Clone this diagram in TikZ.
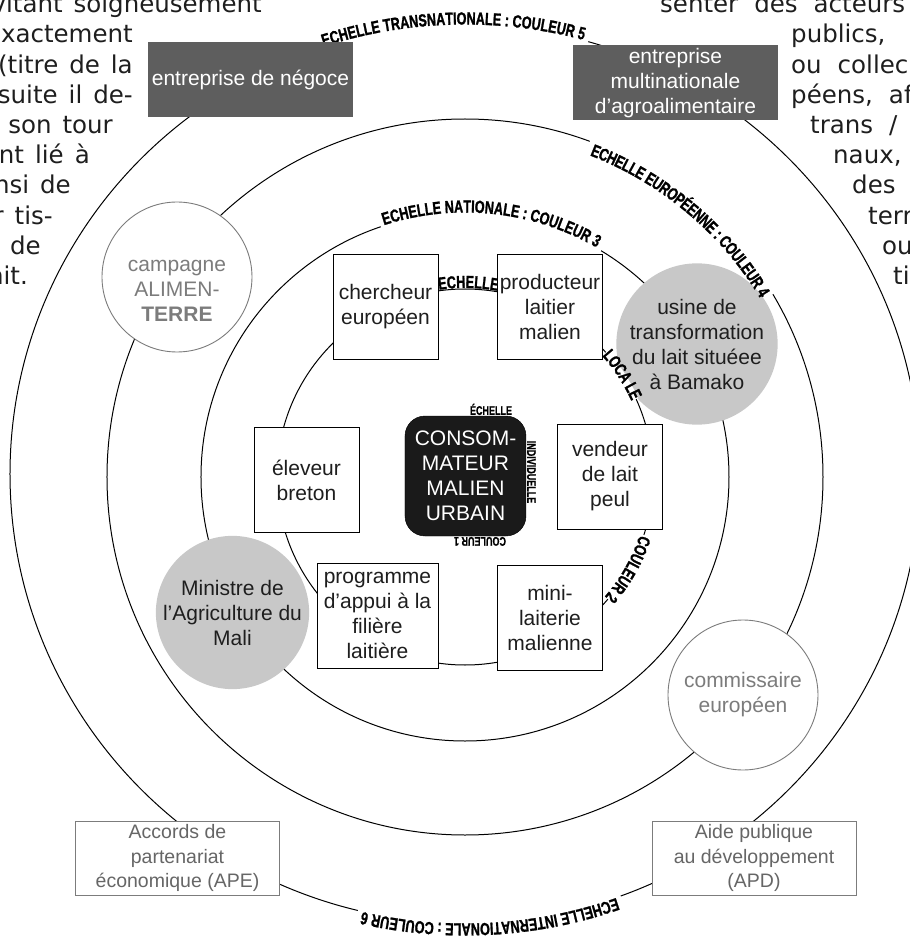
\documentclass[tikz,border=0pt]{standalone}
\usepackage{fontspec}
\setmainfont{Liberation Sans}
\newfontfamily\pagefont{DejaVu Sans}
\newfontfamily\ringface[FakeStretch=0.72, FakeBold=1.2]{Liberation Sans}
\usetikzlibrary{decorations.text}

\definecolor{boxdark}{HTML}{5E5E5E}
\definecolor{consofill}{HTML}{1A1A1A}
\definecolor{diskgray}{HTML}{C8C8C8}
\definecolor{softgray}{HTML}{7C7C7C}
\definecolor{inktext}{HTML}{1E1E1E}

\newcommand{\boxfont}{\fontsize{21}{25}\selectfont}
\newcommand{\smallboxfont}{\fontsize{19.5}{24.5}\selectfont}
\newcommand{\ringfont}{\ringface\bfseries\fontsize{17.5}{17.5}\selectfont}
\newcommand{\tinyringfont}{\ringface\bfseries\fontsize{12.5}{12.5}\selectfont}
\newcommand{\pagetext}{\pagefont\fontsize{24.5}{30}\selectfont}

\tikzset{
  ring/.style={draw=black, line width=1pt},
  ringcover/.style={draw=white, line width=4.5pt},
  ringtext/.style={decorate, decoration={text along path, text align=center, text={|\ringfont|#1}}},
  tinyring/.style={font=\tinyringfont, text=black, inner sep=0.6pt},
  darkbox/.style={rectangle, fill=boxdark, text=white, font=\boxfont, align=center,
    inner sep=0pt, minimum width=205, minimum height=75},
  whitebox/.style={rectangle, draw=black, line width=0.9pt, fill=white, text=inktext,
    font=\boxfont, align=center, inner sep=0pt, minimum width=105, minimum height=105},
  graydisk/.style={circle, fill=diskgray, text=inktext, font=\boxfont, align=center,
    inner sep=0pt, minimum size=151},
  opendisk/.style={circle, draw=softgray, line width=0.9pt, fill=white, text=softgray,
    font=\boxfont, align=center, inner sep=0pt, minimum size=150},
  graybox/.style={rectangle, draw=softgray, line width=0.9pt, fill=white, text=black!60,
    font=\smallboxfont, align=center, inner sep=0pt, minimum width=204, minimum height=74},
  consobox/.style={rectangle, rounded corners=20pt, fill=consofill, draw=black, text=white,
    font=\boxfont, align=center, inner sep=0pt, minimum width=121, minimum height=120},
  leftline/.style={anchor=base east, inner sep=0pt, text=inktext, font={\pagetext\spaceskip=11pt\relax}},
  rightline/.style={anchor=base west, inner sep=0pt, text=inktext, font={\pagetext\spaceskip=16pt\relax}}
}

\begin{document}
\begin{tikzpicture}[x=1pt, y=1pt]
\useasboundingbox (-465,-463) rectangle (445,477);
\clip (-465,-463) rectangle (445,477);

% the four scales
\draw[ring] (0,0) circle[radius=188];
\draw[ring] (0,0) circle[radius=264];
\draw[ring] (0,0) circle[radius=358];
\draw[ring] (0,3) ellipse[x radius=455, y radius=449];

% gray actors sit on the national ring
\node[graydisk] (usine) at (232,133) {usine de\\transformation\\du lait situéee\\à Bamako};
\node[graydisk] (ministre) at (-232.5,-135.5) {Ministre de\\l’Agriculture du\\Mali};

% scale names along the rings
\path[ringtext={ECHELLE}, decoration={raise=1pt}] (104:188) arc[start angle=104, end angle=74, radius=188];
\draw[ringcover] (41.5:188) arc[start angle=41.5, end angle=24.5, radius=188];
\path[ringtext={LOCA LE}, decoration={raise=-5pt}] (47:188) arc[start angle=47, end angle=19, radius=188];
\draw[ringcover] (-18:188) arc[start angle=-18, end angle=-40.5, radius=188];
\path[ringtext={COULEUR 2}, decoration={raise=-4pt}] (-12:188) arc[start angle=-12, end angle=-47, radius=188];

\draw[ringcover] (108.6:264) arc[start angle=108.6, end angle=59, radius=264];
\path[ringtext={ECHELLE NATIONALE : COULEUR 3}, decoration={raise=0.5pt}] (116:264) arc[start angle=116, end angle=52, radius=264];

\draw[ringcover] (69.6:358) arc[start angle=69.6, end angle=30.7, radius=358];
\path[ringtext={ECHELLE EUROPÉENNE : COULEUR 4}, decoration={raise=-13pt}] (76:358) arc[start angle=76, end angle=24, radius=358];

\draw[ringcover] ([shift={(0,3)}]108.4:455 and 449) arc[start angle=108.4, end angle=74.3, x radius=455, y radius=449];
\path[ringtext={ECHELLE TRANSNATIONALE : COULEUR 5}, decoration={raise=0.5pt}] ([shift={(0,3)}]113:455 and 449) arc[start angle=113, end angle=70, x radius=455, y radius=449];
\draw[ringcover] ([shift={(0,3)}]-70:455 and 449) arc[start angle=-70, end angle=-103.6, x radius=455, y radius=449];
\path[ringtext={ECHELLE INTERNATIONALE : COULEUR 6}, decoration={raise=0.5pt}] ([shift={(0,3)}]-64:455 and 449) arc[start angle=-64, end angle=-109.6, x radius=455, y radius=449];

% actors
\node[darkbox] (negoce) at (-214.5,397.5) {entreprise de négoce};
\node[darkbox] (multinat) at (210.5,394) {entreprise\\multinationale\\d’agroalimentaire};
\node[opendisk] (campagne) at (-288,200) {};
\node[text=softgray, font=\boxfont, align=center, inner sep=0pt] (campagnetext) at ([yshift=-14pt]campagne.center) {campagne\\ALIMEN-\\\textbf{TERRE}};
\node[whitebox] (chercheur) at (-79.5,170.5) {chercheur\\européen};
\node[whitebox] (producteur) at (85,170.5) {producteur\\laitier\\malien};
\node[whitebox] (eleveur) at (-158.5,-3) {éleveur\\breton};
\node[consobox] (conso) at (0.5,1) {CONSOM-\\MATEUR\\MALIEN\\URBAIN};
\node[whitebox] (vendeur) at (145,0.5) {vendeur\\de lait\\peul};
\node[whitebox, minimum width=121] (programme) at (-87.5,-138.5) {programme\\d’appui à la\\filière\\laitière};
\node[whitebox] (minilait) at (85,-140.5) {mini-\\laiterie\\malienne};
\node[opendisk] (commissaire) at (278,-218) {commissaire\\européen};
\node[graybox] (accords) at (-287.5,-381) {Accords de\\partenariat\\économique (APE)};
\node[graybox] (aide) at (289,-381) {Aide publique\\au développement\\(APD)};

% individual scale round the consumer
\node[tinyring, anchor=south] (echind) at ([xshift=25.5pt]conso.north) {ÉCHELLE};
\node[tinyring, rotate=-90, anchor=south] (individ) at ([yshift=4pt]conso.east) {INDIVIDUELLE};
\node[tinyring, rotate=180, anchor=south] (coul1) at ([xshift=14.5pt]conso.south) {COULEUR 1};

% page text round the figure
\node[leftline] (pl1) at (-203,464) {vitant soigneusement};
\node[leftline] (pl2) at (-332,434) {xactement};
\node[leftline] (pl3) at (-332,403.8) {(titre de la};
\node[leftline] (pl4) at (-332,373.6) {suite il de-};
\node[leftline] (pl5) at (-352,343.4) {son tour};
\node[leftline] (pl6) at (-375,313.2) {nt lié à};
\node[leftline] (pl7) at (-394,283) {nsi de};
\node[leftline] (pl8) at (-412,252.8) {r tis-};
\node[leftline] (pl9) at (-424,222.6) {e de};
\node[leftline] (pl10) at (-437,192.4) {nit.};
\node[rightline] (pr1) at (195,464) {senter des acteurs};
\node[rightline] (pr2) at (326,434) {publics,};
\node[rightline] (pr3) at (326,403.8) {ou collec};
\node[rightline] (pr4) at (326,373.6) {péens, af};
\node[rightline] (pr5) at (345,343.4) {trans /};
\node[rightline] (pr6) at (368,313.2) {naux,};
\node[rightline] (pr7) at (387,283) {des a};
\node[rightline] (pr8) at (403,252.8) {terr};
\node[rightline] (pr9) at (417,222.6) {ou};
\node[rightline] (pr10) at (428,192.4) {ti};
\end{tikzpicture}
\end{document}
